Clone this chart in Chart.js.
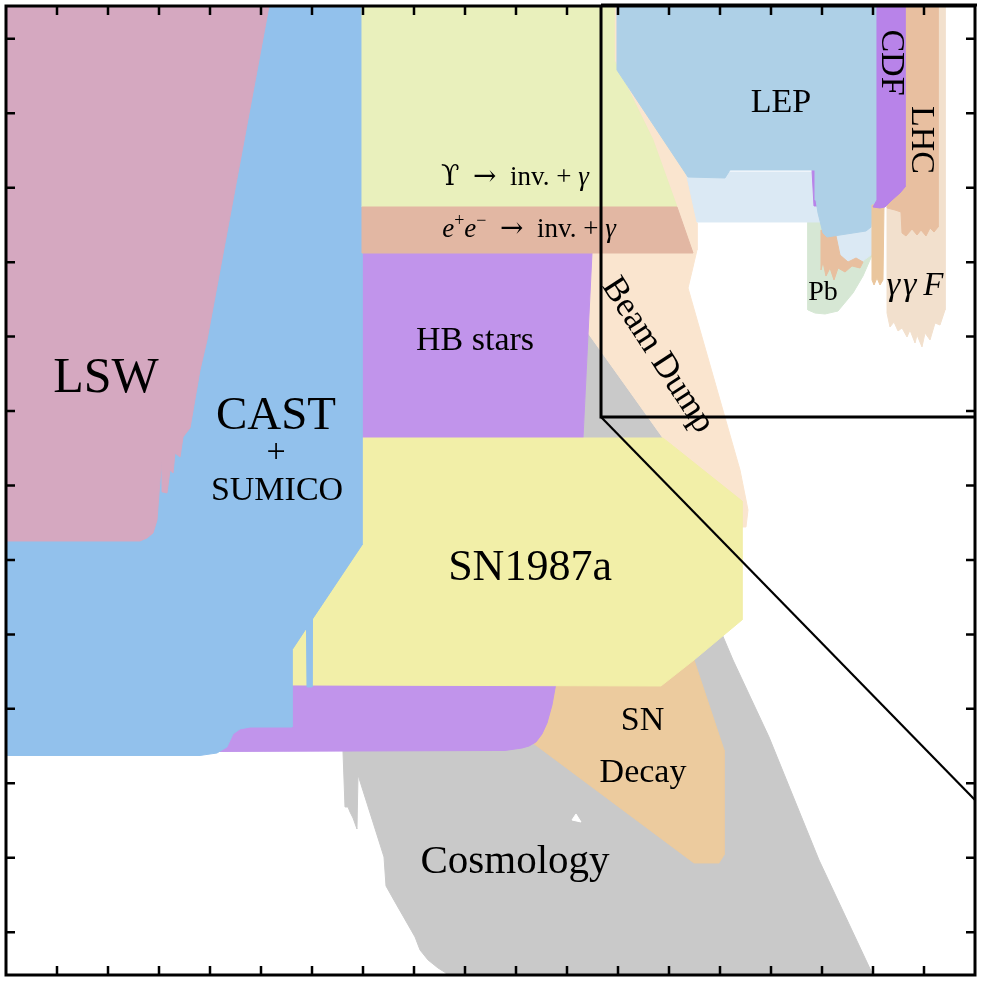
<!DOCTYPE html>
<html><head><meta charset="utf-8">
<script src="https://cdn.jsdelivr.net/npm/chart.js@4.4.1/dist/chart.umd.min.js"></script>
<style>html,body{margin:0;padding:0;background:#fff;overflow:hidden}canvas{display:block}</style>
</head><body>
<canvas id="c" width="984" height="986"></canvas>
<script>
// axes: x = log10(mass), y = log10(coupling); regions as [x, y] vertex lists
const xTicks = [-15,-14,-13,-12,-11,-10,-9,-8,-7,-6,-5,-4,-3,-2,-1,0,1,2];
const yTicks = [-1,-2,-3,-4,-5,-6,-7,-8,-9,-10,-11,-12,-13];

const cosmology = [[-4.686,-6.362],[-4.588,-4.951],[-3.118,-6.362],[-2.392,-8.000],[-2.078,-8.806],[-1.745,-9.344],[-1.039,-10.378],[-0.059,-12.030],[1.137,-13.776],[-7.294,-13.776],[-7.373,-13.548],[-7.529,-13.481],[-7.725,-13.373],[-7.882,-13.239],[-7.980,-13.064],[-8.373,-12.594],[-8.549,-12.379],[-8.588,-11.990],[-9.098,-10.888],[-9.118,-11.614],[-9.196,-11.466],[-9.255,-11.385],[-9.294,-11.318],[-9.353,-11.318],[-9.392,-10.579],[-9.392,-9.881]];
const cosmoGap = [[-4.902,-11.493],[-4.824,-11.412],[-4.725,-11.520]];
const beamDump = [[-4.353,-0.559],[-3.961,-0.559],[-4.020,-1.419],[-2.627,-2.829],[-2.451,-3.474],[-2.451,-3.836],[-2.529,-4.065],[-2.627,-4.347],[-1.608,-6.791],[-1.451,-7.329],[-1.490,-7.557],[-1.588,-7.557],[-2.392,-6.791],[-3.118,-6.362],[-4.588,-4.951],[-4.647,-3.877]];
const snDecay = [[-5.824,-10.378],[-5.824,-9.478],[-2.784,-9.478],[-2.510,-9.344],[-1.922,-10.552],[-1.922,-11.963],[-2.020,-12.070],[-2.510,-12.070]];
const hbStars = [[-9.020,-3.877],[-4.510,-3.877],[-4.686,-6.362],[-5.039,-9.075],[-5.216,-9.652],[-5.294,-9.948],[-5.392,-10.190],[-5.490,-10.337],[-5.608,-10.445],[-5.745,-10.499],[-5.882,-10.526],[-6.216,-10.559],[-11.902,-10.573],[-11.902,-9.209],[-9.020,-9.209]];
const sn1987a = [[-10.392,-9.679],[-10.392,-9.075],[-9.020,-7.664],[-9.020,-6.362],[-3.118,-6.362],[-1.569,-7.208],[-1.569,-8.806],[-2.510,-9.344],[-3.157,-9.693]];
const cast = [[-16.0,-0.559],[-9.020,-0.559],[-9.020,-7.799],[-9.990,-8.793],[-10.000,-9.706],[-10.098,-9.706],[-10.108,-8.914],[-10.392,-9.209],[-10.392,-10.244],[-11.216,-10.244],[-11.412,-10.270],[-11.549,-10.337],[-11.667,-10.512],[-11.863,-10.593],[-12.196,-10.626],[-16.0,-10.626]];
const lsw = [[-16.0,-0.559],[-10.843,-0.559],[-11.549,-3.165],[-12.059,-5.045],[-12.196,-5.448],[-12.392,-6.227],[-12.529,-6.348],[-12.588,-6.617],[-12.686,-6.563],[-12.725,-6.832],[-12.784,-6.791],[-12.843,-7.100],[-12.922,-7.087],[-12.941,-6.697],[-12.980,-6.926],[-13.039,-7.463],[-13.118,-7.638],[-13.235,-7.705],[-13.373,-7.745],[-16.0,-7.745]];
const upsilon = [[-9.020,-0.559],[-4.078,-0.559],[-4.078,-1.284],[-3.314,-2.359],[-2.843,-3.259],[-9.020,-3.259]];
const eeGamma = [[-9.020,-3.259],[-2.843,-3.259],[-2.529,-3.877],[-9.020,-3.877]];
const pb = [[-0.275,-3.460],[-0.275,-4.642],[-0.137,-4.683],[0.059,-4.696],[0.314,-4.656],[0.608,-4.414],[0.804,-4.186],[1.000,-3.877],[1.000,-3.460]];
const lepLight = [[-2.667,-2.789],[1.059,-2.789],[1.059,-3.702],[0.961,-3.904],[0.745,-4.011],[0.451,-4.051],[0.216,-3.998],[0.000,-3.460],[-2.451,-3.460]];
const lepSpikes = [[-0.020,-3.568],[0.275,-3.648],[0.353,-3.904],[0.510,-3.998],[0.667,-3.944],[0.804,-3.998],[0.745,-4.078],[0.588,-4.051],[0.451,-4.132],[0.314,-4.078],[0.235,-4.239],[0.157,-4.078],[0.078,-4.186],[0.020,-3.998],[-0.020,-4.105]];
const cdfSliver = [[-0.196,-2.762],[-0.078,-2.762],[-0.078,-3.245],[-0.157,-3.245]];
const lep = [[-4.020,-0.559],[1.078,-0.559],[1.078,-3.165],[1.000,-3.259],[0.961,-3.528],[0.863,-3.581],[0.098,-3.662],[0.020,-3.608],[-0.078,-3.339],[-0.118,-3.165],[-0.137,-2.762],[-1.804,-2.762],[-1.902,-2.869],[-2.627,-2.856],[-4.020,-1.419]];
const gammaF = [[1.275,-0.559],[2.412,-0.559],[2.412,-4.642],[2.314,-4.844],[2.216,-4.817],[2.118,-5.045],[2.020,-4.951],[1.961,-5.139],[1.863,-4.978],[1.824,-5.086],[1.725,-4.911],[1.667,-5.005],[1.569,-4.884],[1.490,-4.924],[1.412,-4.804],[1.333,-4.871],[1.275,-4.683]];
const lhc = [[1.275,-0.559],[2.275,-0.559],[2.275,-3.528],[2.196,-3.595],[2.118,-3.541],[2.039,-3.648],[1.941,-3.568],[1.863,-3.635],[1.765,-3.554],[1.647,-3.648],[1.569,-3.608],[1.549,-3.326],[1.431,-3.299],[1.275,-3.272]];
const lhcStrip = [[0.980,-3.232],[1.216,-3.232],[1.196,-4.239],[1.137,-4.307],[1.078,-4.212],[1.020,-4.307],[0.980,-4.239]];
const cdf = [[1.078,-0.559],[1.627,-0.559],[1.627,-2.990],[1.529,-3.071],[1.373,-3.165],[1.235,-3.259],[1.137,-3.272],[1.000,-3.259],[1.078,-3.165]];

// inset frame (zoom box) and connector, in data units
const inset = {x0:-4.333, yTop:-0.559, yBot:-6.080, xEnd:3, yEnd:-11.224};

const regions = [
  {name:'Cosmology', pts:cosmology, color:'#c9c9c9'},
  {name:'gap', pts:cosmoGap, color:'#ffffff'},
  {name:'Beam Dump', pts:beamDump, color:'#fae5cf'},
  {name:'SN Decay', pts:snDecay, color:'#eccb9e'},
  {name:'HB stars', pts:hbStars, color:'#c194eb'},
  {name:'SN1987a', pts:sn1987a, color:'#f2efa8'},
  {name:'CAST', pts:cast, color:'#92c1ec'},
  {name:'LSW', pts:lsw, color:'#d5a8c0'},
  {name:'Upsilon', pts:upsilon, color:'#e9f0bc'},
  {name:'ee', pts:eeGamma, color:'#e2b7a3'},
  {name:'Pb', pts:pb, color:'#d6e7d4'},
  {name:'LEP light', pts:lepLight, color:'#dbe9f4'},
  {name:'spikes', pts:lepSpikes, color:'#e8bf9f'},
  {name:'sliver', pts:cdfSliver, color:'#b883e9'},
  {name:'LEP', pts:lep, color:'#aed0e7'},
  {name:'ggF', pts:gammaF, color:'#f2e0cd'},
  {name:'LHC', pts:lhc, color:'#e8bfa0'},
  {name:'strip', pts:lhcStrip, color:'#eac69d'},
  {name:'CDF', pts:cdf, color:'#b883e9'}
];

const SERIF = "'Liberation Serif','Times New Roman',serif";
const F = (s, it) => (it ? 'italic ' : '') + s + 'px ' + SERIF;
const ARROW = "28px 'DejaVu Serif','DejaVu Sans',serif";
const texts = [
  {runs:[{t:'LSW', f:F(50)}], x:-14.039, y:-5.744},
  {runs:[{t:'CAST', f:F(47)}], x:-10.706, y:-6.241},
  {runs:[{t:'+', f:F(34)}], x:-10.706, y:-6.684},
  {runs:[{t:'SUMICO', f:F(34)}], x:-10.686, y:-7.194},
  {runs:[{t:'HB stars', f:F(34)}], x:-6.804, y:-5.180},
  {runs:[{t:'SN1987a', f:F(44)}], x:-5.725, y:-8.269},
  {runs:[{t:'\u03D2', f:"27px 'DejaVu Serif',serif"}, {t:'\u2002', f:F(27)}, {t:'\u2192', f:ARROW}, {t:'\u2002inv. + ', f:F(27)}, {t:'\u03B3', f:F(27,true)}], x:-6.020, y:-2.963},
  {runs:[{t:'e', f:F(27,true)}, {t:'+', f:F(18), dy:-11}, {t:'e', f:F(27,true)}, {t:'\u2212', f:F(18), dy:-11}, {t:'\u2002', f:F(27)}, {t:'\u2192', f:ARROW}, {t:'\u2002inv. + ', f:F(27)}, {t:'\u03B3', f:F(27,true)}], x:-5.745, y:-3.662},
  {runs:[{t:'LEP', f:F(34)}], x:-0.804, y:-1.983},
  {runs:[{t:'Pb', f:F(28)}], x:0.020, y:-4.508},
  {runs:[{t:'\u03B3\u200A\u03B3\u2009', f:F(34,true)}, {t:'F', f:F(33,true)}], x:1.824, y:-4.441},
  {runs:[{t:'SN', f:F(34)}], x:-3.520, y:-10.284},
  {runs:[{t:'Decay', f:F(34)}], x:-3.510, y:-10.982},
  {runs:[{t:'Cosmology', f:F(41)}], x:-6.020, y:-12.205}
];
const rotated = [
  {t:'Beam Dump', f:F(35), x:-3.225, y:-5.250, deg:57},
  {t:'CDF', f:F(34), x:1.343, y:-1.318, deg:90},
  {t:'LHC', f:F(34), x:1.931, y:-2.359, deg:90}
];

function drawRuns(ctx, runs, cx, by) {
  let w = 0;
  runs.forEach(r => { ctx.font = r.f; r.w = ctx.measureText(r.t).width; w += r.w; });
  let xx = cx - w / 2;
  runs.forEach(r => { ctx.font = r.f; ctx.fillText(r.t, xx, by + (r.dy || 0)); xx += r.w; });
}

const overlay = {
  id: 'overlay',
  afterDraw(chart) {
    const {ctx, chartArea: a, scales: {x, y}} = chart;
    ctx.save();
    ctx.fillStyle = '#000';
    ctx.textAlign = 'left';
    ctx.textBaseline = 'alphabetic';
    texts.forEach(t => drawRuns(ctx, t.runs, x.getPixelForValue(t.x), y.getPixelForValue(t.y)));
    rotated.forEach(t => {
      ctx.save();
      ctx.translate(x.getPixelForValue(t.x), y.getPixelForValue(t.y));
      ctx.rotate(t.deg * Math.PI / 180);
      ctx.font = t.f; ctx.textAlign = 'center'; ctx.textBaseline = 'middle';
      ctx.fillText(t.t, 0, 0);
      ctx.restore();
    });
    // inset box + connector
    ctx.strokeStyle = '#000';
    ctx.lineWidth = 3;
    const bx = x.getPixelForValue(inset.x0), bt = y.getPixelForValue(inset.yTop), bb = y.getPixelForValue(inset.yBot);
    ctx.beginPath();
    ctx.moveTo(bx, bt - 1); ctx.lineTo(bx, bb); ctx.lineTo(a.right, bb);
    ctx.stroke();
    ctx.beginPath();
    ctx.moveTo(bx, bt - 1); ctx.lineTo(a.right + 2, bt - 1);
    ctx.stroke();
    ctx.lineWidth = 2.2;
    ctx.beginPath();
    ctx.moveTo(bx, bb); ctx.lineTo(x.getPixelForValue(inset.xEnd), y.getPixelForValue(inset.yEnd));
    ctx.stroke();
    // frame
    ctx.lineWidth = 3;
    ctx.strokeRect(a.left, a.top, a.right - a.left, a.bottom - a.top);
    // inward ticks on all four sides
    ctx.lineWidth = 2.5;
    const L = 9;
    ctx.beginPath();
    xTicks.forEach(v => {
      const p = x.getPixelForValue(v);
      ctx.moveTo(p, a.bottom); ctx.lineTo(p, a.bottom - L);
      ctx.moveTo(p, a.top); ctx.lineTo(p, a.top + L);
    });
    yTicks.forEach(v => {
      const p = y.getPixelForValue(v);
      ctx.moveTo(a.left, p); ctx.lineTo(a.left + L, p);
      ctx.moveTo(a.right, p); ctx.lineTo(a.right - L, p);
    });
    ctx.stroke();
    ctx.restore();
  }
};

new Chart(document.getElementById('c'), {
  type: 'line',
  data: {
    datasets: regions.map((r, i) => ({
      label: r.name,
      data: r.pts.concat([r.pts[0]]).map(p => ({x: p[0], y: p[1]})),
      fill: 'shape',
      backgroundColor: r.color,
      borderColor: r.color,
      borderWidth: 1,
      pointRadius: 0,
      pointHoverRadius: 0,
      tension: 0,
      order: regions.length - i
    }))
  },
  options: {
    responsive: false,
    animation: false,
    events: [],
    devicePixelRatio: 1,
    layout: {padding: {left: 6, right: 9, top: 6, bottom: 11}},
    scales: {
      x: {type: 'linear', min: -16, max: 3, display: false},
      y: {type: 'linear', min: -13.575, max: -0.559, display: false}
    },
    plugins: {legend: {display: false}, tooltip: {enabled: false}}
  },
  plugins: [overlay]
});
</script>
</body></html>
